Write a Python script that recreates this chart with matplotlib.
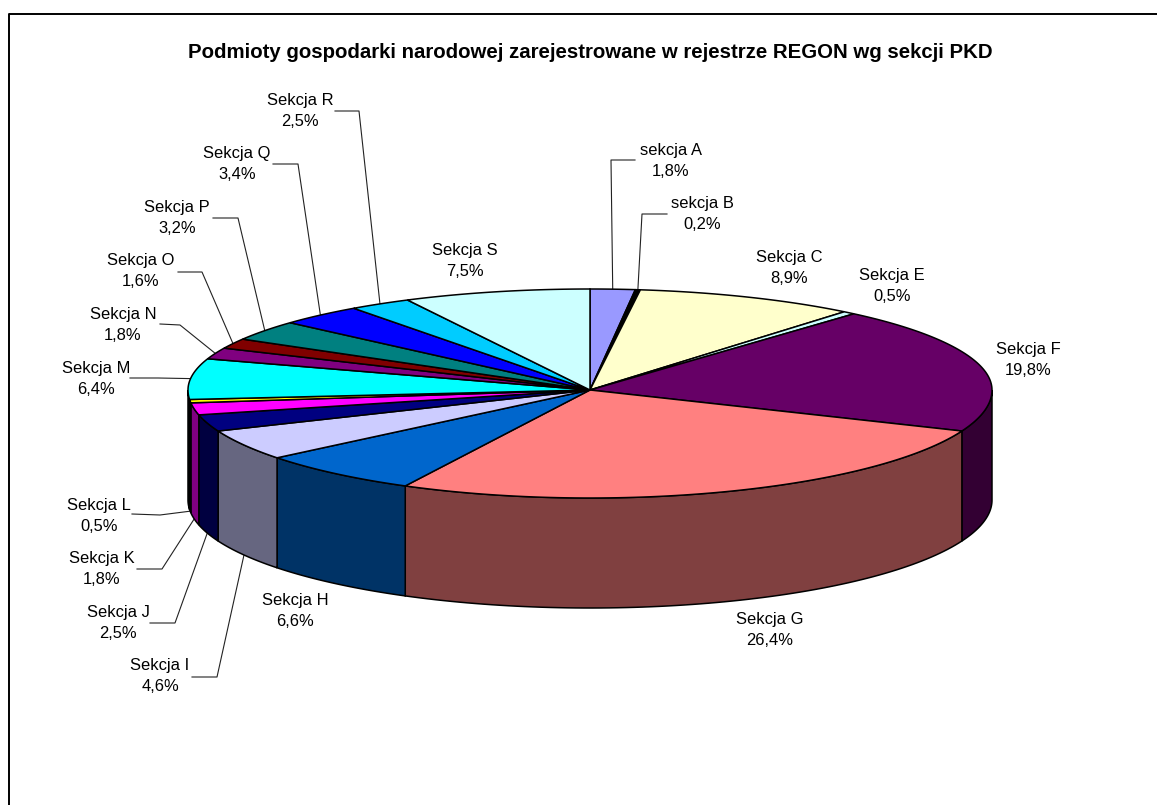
import numpy as np
import matplotlib
matplotlib.use('Agg')
import matplotlib.pyplot as plt
from matplotlib.colors import to_rgb

plt.rcParams['font.family'] = ['Liberation Sans', 'DejaVu Sans']

title = 'Podmioty gospodarki narodowej zarejestrowane w rejestrze REGON wg sekcji PKD'
names = ['sekcja A', 'sekcja B', 'Sekcja C', 'Sekcja E', 'Sekcja F', 'Sekcja G', 'Sekcja H',
         'Sekcja I', 'Sekcja J', 'Sekcja K', 'Sekcja L', 'Sekcja M', 'Sekcja N', 'Sekcja O',
         'Sekcja P', 'Sekcja Q', 'Sekcja R', 'Sekcja S']
values = [1.8, 0.2, 8.9, 0.5, 19.8, 26.4, 6.6, 4.6, 2.5, 1.8, 0.5, 6.4, 1.8, 1.6, 3.2, 3.4, 2.5, 7.5]
colors = ['#9999FF', '#000000', '#FFFFCC', '#CCFFFF', '#660066', '#FF8080', '#0066CC', '#CCCCFF',
          '#000080', '#FF00FF', '#FFFF00', '#00FFFF', '#800080', '#800000', '#008080', '#0000FF',
          '#00CCFF', '#CCFFFF']

# label centres in pixels
label_x = [671, 702, 789, 892, 1028, 770, 295, 160, 118, 102, 99, 96, 123, 141, 177, 237, 300, 465]
label_y = [161, 214, 268, 286, 360, 630, 611, 676, 623, 569, 516, 379, 325, 271, 218, 164, 111, 261]

# leader lines: slice name -> elbow points, the end on the pie comes from the slice angle
leaders = {
    'sekcja A': [(635, 160), (611, 160)],
    'sekcja B': [(667, 214), (642, 214)],
    'Sekcja I': [(192, 677), (217, 677)],
    'Sekcja J': [(150, 623), (175, 623)],
    'Sekcja K': [(137, 569), (162, 569)],
    'Sekcja L': [(132, 514), (160, 515)],
    'Sekcja M': [(130, 378), (158, 378)],
    'Sekcja N': [(160, 324), (180, 325)],
    'Sekcja O': [(178, 272), (202, 272)],
    'Sekcja P': [(213, 218), (238, 218)],
    'Sekcja Q': [(273, 164), (298, 164)],
    'Sekcja R': [(335, 111), (359, 111)],
}

cx, cy = 590, 390
rx, ry_back, ry_front = 402, 101, 108
depth = 110


def ellipse(t, drop=0):
    # t in degrees, clockwise from the top of the pie
    r = np.radians(t)
    c = np.cos(r)
    return cx + rx * np.sin(r), cy - c * np.where(c > 0, ry_back, ry_front) + drop


fig = plt.figure(figsize=(11.57, 8.05), dpi=100)
ax = fig.add_axes([0, 0, 1, 1])
ax.set_xlim(0, 1157)
ax.set_ylim(805, 0)
ax.axis('off')

# chart border, only left and top are in the picture
ax.plot([9, 9, 1157], [805, 14, 14], color='black', lw=1.4)

edges = np.concatenate([[0], np.cumsum(values)]) / sum(values) * 360

# outer wall of the front half
for i, col in enumerate(colors):
    a, b = max(edges[i], 90), min(edges[i + 1], 270)
    if b <= a:
        continue
    t = np.linspace(a, b, 80)
    x, y = ellipse(t)
    xb, yb = ellipse(t[::-1], depth)
    dark = tuple(v * 0.5 for v in to_rgb(col))
    ax.fill(np.r_[x, xb], np.r_[y, yb], facecolor=dark, edgecolor='black', lw=1.1, zorder=2)

# top of the pie
for i, col in enumerate(colors):
    t = np.linspace(edges[i], edges[i + 1], 80)
    x, y = ellipse(t)
    ax.fill(np.r_[cx, x], np.r_[cy, y], facecolor=col, edgecolor='black', lw=1.1, zorder=3)

# leader lines
for i, name in enumerate(names):
    if name not in leaders:
        continue
    mid = (edges[i] + edges[i + 1]) / 2
    drop = depth if 90 < mid < 270 else 0
    ex, ey = ellipse(mid, drop)
    pts = leaders[name] + [(float(ex), float(ey))]
    ax.plot([p[0] for p in pts], [p[1] for p in pts], color='#222222', lw=0.8, zorder=1)

for name, val, lx, ly in zip(names, values, label_x, label_y):
    txt = f'{name}\n{val:.1f}%'.replace('.', ',')
    ax.text(lx, ly, txt, ha='center', va='center', fontsize=11.9, linespacing=1.5, color='black')

ax.text(590, 52, title, ha='center', va='center', fontsize=14.7, fontweight='bold', color='black')

fig.savefig('out.png', dpi=100)
